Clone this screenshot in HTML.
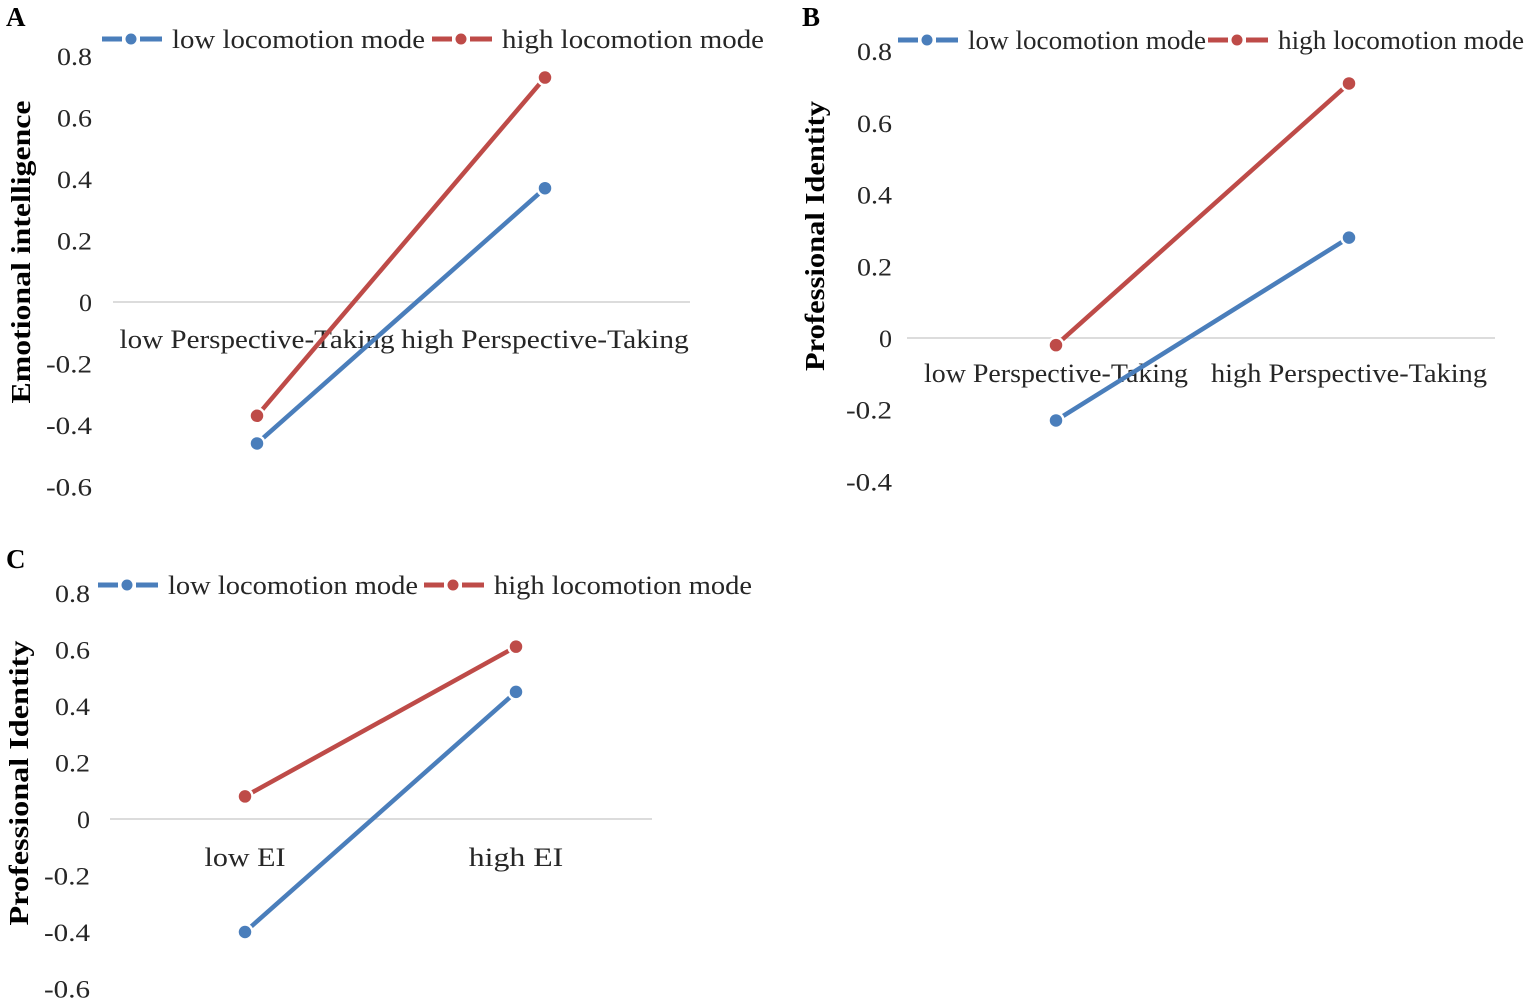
<!DOCTYPE html>
<html><head><meta charset="utf-8"><style>
html,body{margin:0;padding:0;background:#fff}
svg{display:block}
text{font-family:"Liberation Serif",serif;fill:#262626}
</style></head><body>
<svg id="s" width="1535" height="1005" xmlns="http://www.w3.org/2000/svg"></svg>
<script>
const categoriesA = ["low Perspective-Taking","high Perspective-Taking"];
const lowA = [-0.46, 0.37];
const highA = [-0.37, 0.73];
const categoriesB = ["low Perspective-Taking","high Perspective-Taking"];
const lowB = [-0.23, 0.28];
const highB = [-0.02, 0.71];
const categoriesC = ["low EI","high EI"];
const lowC = [-0.40, 0.45];
const highC = [0.08, 0.61];
const ticksA = [0.8,0.6,0.4,0.2,0,-0.2,-0.4,-0.6];
const ticksB = [0.8,0.6,0.4,0.2,0,-0.2,-0.4];
const ticksC = [0.8,0.6,0.4,0.2,0,-0.2,-0.4,-0.6];
const seriesNames = ["low locomotion mode","high locomotion mode"];
const BLUE="#4a7ebb", RED="#be4b48";
const svg=document.getElementById('s');
const NS="http://www.w3.org/2000/svg";
function mk(tag,attrs,parent){const e=document.createElementNS(NS,tag);for(const k in attrs)e.setAttribute(k,attrs[k]);(parent||svg).appendChild(e);return e;}
function fit(e,w){e.setAttribute('textLength',w);e.setAttribute('lengthAdjust','spacingAndGlyphs');}
function panel(cfg){
  const g=mk('g',{});
  
  
  const y=v=>cfg.y0-v*cfg.ppu;
  const xs=[cfg.x1,cfg.x2];
  const lab=mk('text',{x:cfg.lx,y:cfg.ly,'font-size':27,'font-weight':'bold',style:'fill:#000'},g);lab.textContent=cfg.id;
  
  
  cfg.ticks.forEach(t=>{const e=mk('text',{x:cfg.tx,y:y(t)+9,'text-anchor':'end','font-size':25},g);e.textContent=t===0?'0':t.toFixed(1);
    fit(e,t===0?13:(t<0?46:35));
    
    });
  const ax=mk('line',{x1:cfg.ax1,x2:cfg.ax2,y1:y(0),y2:y(0),stroke:'#d0d0d0','stroke-width':1.5},g);
  
  
  cfg.cats.forEach((c,i)=>{const e=mk('text',{x:xs[i],y:cfg.cy,'text-anchor':'middle','font-size':26},g);e.textContent=c;
    fit(e,c.length*cfg.cw);
    
    });
  const yt=mk('text',{transform:`translate(${cfg.ytx},${cfg.yty}) rotate(-90)`,'text-anchor':'middle','font-size':27,'font-weight':'bold',style:'fill:#000'},g);yt.textContent=cfg.ytitle;
  fit(yt,cfg.ytw);
  
  
  [[cfg.low,BLUE,'low'],[cfg.high,RED,'high']].forEach(([vals,col,nm])=>{
    const l=mk('line',{x1:xs[0],y1:y(vals[0]),x2:xs[1],y2:y(vals[1]),stroke:col,'stroke-width':4.5},g);
    
    
    vals.forEach((v,i)=>{const c=mk('circle',{cx:xs[i],cy:y(v),r:7.5,fill:col,stroke:'#fff','stroke-width':2.5},g);
      
      });
  });
  let lx=cfg.legx;
  seriesNames.forEach((n,i)=>{const col=i?RED:BLUE;
    const lg=mk('g',{},g);
    
    
    mk('line',{x1:lx,x2:lx+20,y1:cfg.legy,y2:cfg.legy,stroke:col,'stroke-width':5},lg);
    mk('line',{x1:lx+38,x2:lx+60,y1:cfg.legy,y2:cfg.legy,stroke:col,'stroke-width':5},lg);
    mk('circle',{cx:lx+29,cy:cfg.legy,r:6.5,fill:col,stroke:'#fff','stroke-width':2},lg);
    const t=mk('text',{x:lx+70,y:cfg.legy+9,'font-size':26},lg);t.textContent=n;
    fit(t,i?cfg.legw2:cfg.legw1);
    lx+=cfg.legstep;});
}
panel({id:'A',lx:6,ly:26,ticks:ticksA,y0:302,ppu:307.5,tx:92,ax1:113,ax2:690,x1:257,x2:545,cats:categoriesA,cw:12.5,cy:348,low:lowA,high:highA,ytitle:'Emotional intelligence',ytw:303,ytx:30,yty:252,legx:102,legy:39,legstep:330,legw1:253,legw2:262});
panel({id:'B',lx:802,ly:26,ticks:ticksB,y0:338,ppu:358.5,tx:892,ax1:907,ax2:1495,x1:1056,x2:1349,cats:categoriesB,cw:12,cy:382,low:lowB,high:highB,ytitle:'Professional Identity',ytw:270,ytx:824,yty:236,legx:898,legy:40,legstep:310,legw1:238,legw2:246});
panel({id:'C',lx:6,ly:568,ticks:ticksC,y0:819,ppu:282.5,tx:90,ax1:110,ax2:652,x1:245,x2:516,cats:categoriesC,cw:13.5,cy:866,low:lowC,high:highC,ytitle:'Professional Identity',ytw:285,ytx:28,yty:783,legx:98,legy:585,legstep:326,legw1:250,legw2:258});
</script>
</body></html>
